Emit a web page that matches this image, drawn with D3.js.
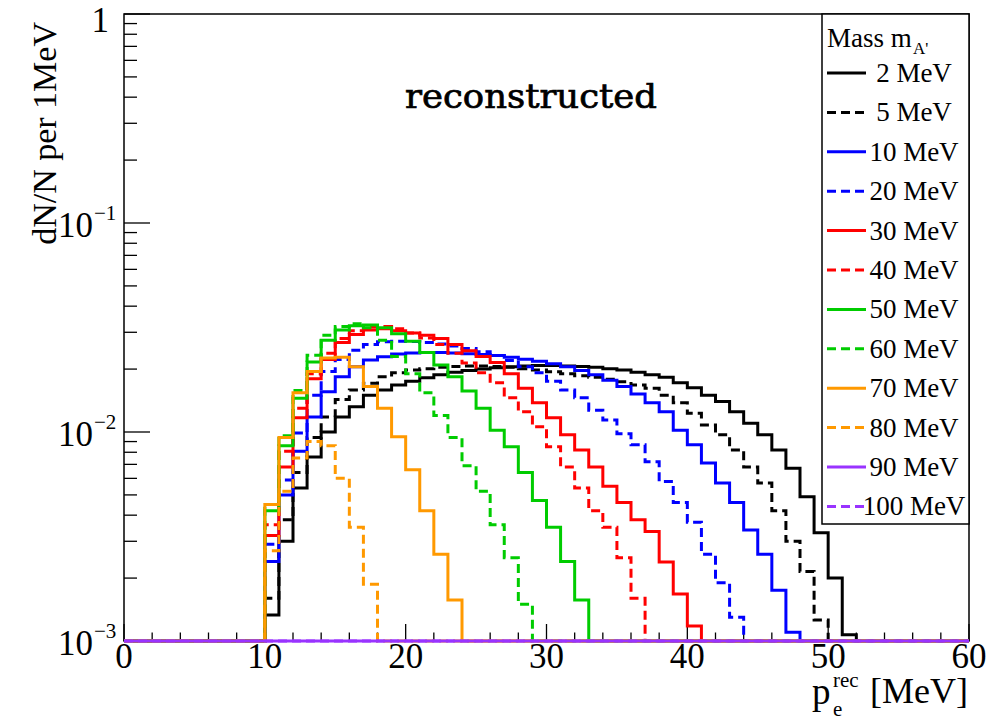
<!DOCTYPE html>
<html><head><meta charset="utf-8">
<script src="https://cdn.jsdelivr.net/npm/d3@7"></script>
<style>body{margin:0;background:#fff}</style>
</head><body>
<svg id="chart" width="994" height="721"></svg>
<script>
// ---------- data (bin contents, 1 MeV bins, first filled bin starts at 10 MeV) ----------
const binStart = 10;
const nBins = 60;
const massLabels = ["2 MeV","5 MeV","10 MeV","20 MeV","30 MeV","40 MeV","50 MeV","60 MeV","70 MeV","80 MeV","90 MeV","100 MeV"];
const m2   = [0.00133,0.0030,0.0054,0.0076,0.0100,0.0118,0.0132,0.0150,0.0159,0.0168,0.0175,0.0182,0.0188,0.0193,0.0197,0.0200,0.0203,0.0205,0.0207,0.0208,0.0208,0.0207,0.0206,0.0204,0.0201,0.0198,0.0193,0.0188,0.0183,0.0172,0.0163,0.0150,0.0140,0.0125,0.0110,0.0097,0.0082,0.0067,0.0049,0.0033,0.0020,0.00107];
const m5   = [0.0016,0.0038,0.0064,0.0094,0.0118,0.0143,0.0159,0.0171,0.0184,0.0192,0.0198,0.0201,0.0204,0.0206,0.0207,0.0207,0.0206,0.0204,0.0201,0.0198,0.0194,0.0190,0.0186,0.0183,0.0179,0.0174,0.0168,0.0162,0.0150,0.0138,0.0123,0.0108,0.0097,0.0082,0.0068,0.0057,0.0042,0.0030,0.00215,0.00126];
const m10  = [0.0024,0.0050,0.0081,0.0118,0.0156,0.0184,0.0205,0.0221,0.0229,0.0236,0.0239,0.0240,0.0240,0.0239,0.0237,0.0235,0.0232,0.0228,0.0223,0.0218,0.0212,0.0205,0.0197,0.0188,0.0177,0.0165,0.0152,0.0138,0.0125,0.0102,0.0087,0.0071,0.0057,0.0046,0.0034,0.0026,0.00175,0.0011];
const m20  = [0.0029,0.0059,0.0099,0.0150,0.0195,0.0222,0.0246,0.0262,0.0270,0.0272,0.0271,0.0268,0.0264,0.0258,0.0251,0.0242,0.0232,0.0220,0.0205,0.0192,0.0175,0.0159,0.0146,0.0127,0.0114,0.0098,0.0087,0.0072,0.0058,0.0046,0.0037,0.0026,0.0019,0.0013];
const m30  = [0.0032,0.0068,0.0117,0.0180,0.0222,0.0268,0.0293,0.0308,0.0312,0.0305,0.0298,0.0290,0.0280,0.0262,0.0245,0.0230,0.0215,0.0190,0.0162,0.0138,0.0117,0.0097,0.0082,0.0068,0.0055,0.0046,0.0038,0.00334,0.00239,0.00168,0.00118];
const m40  = [0.0036,0.0081,0.0130,0.0190,0.0238,0.0280,0.0305,0.0318,0.0320,0.0312,0.0298,0.0282,0.0262,0.0238,0.0214,0.0192,0.0172,0.0146,0.0125,0.0106,0.0085,0.0068,0.0054,0.0042,0.0035,0.0025,0.0016];
const m50  = [0.0042,0.0086,0.0145,0.0216,0.0275,0.0308,0.0322,0.0325,0.0315,0.0295,0.0272,0.0240,0.0209,0.0184,0.0157,0.0130,0.0102,0.0085,0.0064,0.0047,0.0035,0.0024,0.00157];
const m60  = [0.0045,0.0096,0.0158,0.0233,0.0290,0.0320,0.0330,0.0315,0.0275,0.0230,0.0190,0.0154,0.0120,0.0094,0.0069,0.0052,0.0036,0.0025,0.0015];
const m70  = [0.0045,0.0094,0.0154,0.0195,0.0226,0.0228,0.0205,0.0165,0.0130,0.0095,0.0066,0.0042,0.0026,0.00157];
const m80  = [0.0027,0.0052,0.0075,0.0090,0.0086,0.0060,0.0035,0.00187];
const m90  = [];
const m100 = [];
const seriesValues = [m2,m5,m10,m20,m30,m40,m50,m60,m70,m80,m90,m100];
const seriesColors = ["#000000","#000000","#0000ff","#0000ff","#ff0000","#ff0000","#00cc00","#00cc00","#ff9900","#ff9900","#9933ff","#9933ff"];
const seriesDashed = [false,true,false,true,false,true,false,true,false,true,false,true];
const xTickValues = [0,10,20,30,40,50,60];
const yTickValues = [1e-3,1e-2,1e-1,1];
const yTickExponents = ["−3","−2","−1",""];

// ---------- layout ----------
const svg = d3.select("#chart");
const L = 124, R = 969, T = 14, B = 641;
const x = d3.scaleLinear().domain([0,60]).range([L,R]);
const y = d3.scaleLog().domain([1e-3,1]).range([B,T]);
const serif = "'Liberation Serif','Times New Roman',serif";

svg.append("rect").attr("width",994).attr("height",721).attr("fill","#fff");

// frame
svg.append("rect").attr("x",L).attr("y",T).attr("width",R-L).attr("height",B-T)
  .attr("fill","none").attr("stroke","#000").attr("stroke-width",1.5);

// x ticks
const xMinor = d3.range(0,61,2);
svg.append("g").selectAll("line").data(xMinor).join("line")
  .attr("x1",d=>x(d)).attr("x2",d=>x(d))
  .attr("y1",B).attr("y2",d=>d%10===0?B-17:B-8.5)
  .attr("stroke","#000").attr("stroke-width",1.3);
svg.append("g").selectAll("text").data(xTickValues).join("text")
  .attr("x",d=>x(d)).attr("y",668).attr("text-anchor","middle")
  .attr("font-family",serif).attr("font-size",35).text(d=>d);

// y ticks
const yMinor = [];
[1e-3,1e-2,1e-1].forEach(dec=>{ for(let k=1;k<10;k++) yMinor.push(dec*k); });
yMinor.push(1);
svg.append("g").selectAll("line").data(yMinor).join("line")
  .attr("x1",L).attr("x2",d=>{const l=Math.log10(d);return Math.abs(l-Math.round(l))<1e-9?L+26:L+13;})
  .attr("y1",d=>y(d)).attr("y2",d=>y(d))
  .attr("stroke","#000").attr("stroke-width",1.3);
const yl = svg.append("g");
yTickValues.forEach((v,i)=>{
  if(v===1){
    yl.append("text").attr("x",109).attr("y",y(v)+18).attr("text-anchor","end")
      .attr("font-family",serif).attr("font-size",35).text("1");
  } else {
    yl.append("text").attr("x",93).attr("y",y(v)+14).attr("text-anchor","end")
      .attr("font-family",serif).attr("font-size",35).text("10");
    yl.append("text").attr("x",94).attr("y",y(v)-3).attr("text-anchor","start")
      .attr("font-family",serif).attr("font-size",21).text(yTickExponents[i]);
  }
});

// axis titles
svg.append("text").attr("transform","translate(56,22) rotate(-90)")
  .attr("text-anchor","end").attr("font-family",serif).attr("font-size",34)
  .text("dN/N per 1MeV");
svg.append("text").attr("x",968).attr("y",703).attr("text-anchor","end")
  .attr("font-family",serif).attr("font-size",36).text("[MeV]");
svg.append("text").attr("x",812).attr("y",704).attr("font-family",serif).attr("font-size",37).text("p");
svg.append("text").attr("x",833).attr("y",687).attr("font-family",serif).attr("font-size",21).text("rec");
svg.append("text").attr("x",833).attr("y",716).attr("font-family",serif).attr("font-size",21).text("e");

// title
svg.append("text").attr("x",531).attr("y",108).attr("text-anchor","middle")
  .attr("font-family","'DejaVu Serif',serif").attr("font-size",33)
  .attr("stroke","#000").attr("stroke-width",0.7)
  .attr("textLength",252).attr("lengthAdjust","spacingAndGlyphs")
  .text("reconstructed");

// histograms
svg.append("defs").append("clipPath").attr("id","clip")
  .append("rect").attr("x",L).attr("y",T).attr("width",R-L).attr("height",B-T+3);
function stepPoints(vals){
  const pts=[[x(0),y(1e-3)]];
  for(let b=0;b<nBins;b++){
    const i=b-binStart;
    const v=(i>=0&&i<vals.length)?vals[i]:0;
    const yy = v>1e-3 ? y(v) : y(1e-3);
    pts.push([x(b),yy]); pts.push([x(b+1),yy]);
  }
  pts.push([x(60),y(1e-3)]);
  return pts;
}
const hg = svg.append("g").attr("clip-path","url(#clip)");
seriesValues.forEach((vals,k)=>{
  hg.append("path").attr("d",d3.line()(stepPoints(vals)))
    .attr("fill","none").attr("stroke",seriesColors[k]).attr("stroke-width",3)
    .attr("stroke-linejoin","miter")
    .attr("stroke-dasharray",seriesDashed[k]?"9,5":null);
});

// legend
const lg = svg.append("g");
lg.append("rect").attr("x",822).attr("y",T).attr("width",R-822).attr("height",524-T)
  .attr("fill","#fff").attr("stroke","#000").attr("stroke-width",1.5);
lg.append("text").attr("x",827).attr("y",47).attr("font-family",serif).attr("font-size",27).text("Mass m");
lg.append("text").attr("x",913).attr("y",54).attr("font-family",serif).attr("font-size",17).text("A'");
massLabels.forEach((lab,k)=>{
  const cy = 73 + k*39.4;
  lg.append("line").attr("x1",827).attr("x2",866).attr("y1",cy).attr("y2",cy)
    .attr("stroke",seriesColors[k]).attr("stroke-width",3)
    .attr("stroke-dasharray",seriesDashed[k]?"9,5":null);
  lg.append("text").attr("x",914).attr("y",cy+9).attr("text-anchor","middle")
    .attr("font-family",serif).attr("font-size",27).text(lab);
});
</script>
</body></html>
